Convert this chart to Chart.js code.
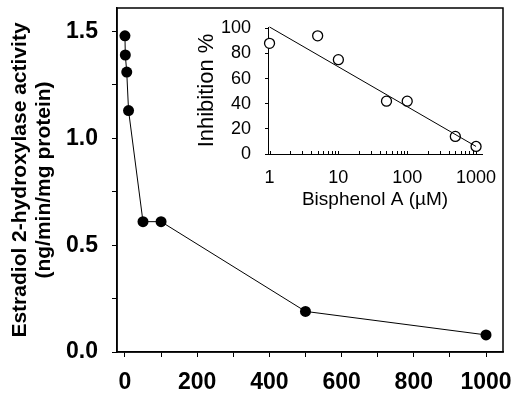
<!DOCTYPE html>
<html>
<head>
<meta charset="utf-8">
<script src="https://cdn.jsdelivr.net/npm/chart.js@4"></script>
<style>
  html, body { margin: 0; padding: 0; background: #fff; }
  #wrap { position: relative; width: 512px; height: 398px; overflow: hidden; }
  #main { position: absolute; left: 0; top: 0; }
  #frameCanvas { position: absolute; left: 0; top: 0; pointer-events: none; }
  #inset { position: absolute; left: 196px; top: 10px; }
</style>
</head>
<body>
<div id="wrap">
  <canvas id="main" width="512" height="398"></canvas>
  <canvas id="frameCanvas" width="512" height="398"></canvas>
  <canvas id="inset" width="316" height="210"></canvas>
</div>
<script>
// ---- Main chart data ----
const MAIN_X = [0, 1, 5, 10, 50, 100, 500, 1000];
const MAIN_Y = [1.48, 1.39, 1.31, 1.13, 0.61, 0.61, 0.19, 0.08];
const MAIN_X_TICKS = [0, 100, 200, 300, 400, 500, 600, 700, 800, 900, 1000];
const MAIN_X_LABELS = [0, 200, 400, 600, 800, 1000];
const MAIN_Y_TICKS = [0, 0.25, 0.5, 0.75, 1.0, 1.25, 1.5];
const MAIN_Y_LABELS = [0, 0.5, 1.0, 1.5];
const MAIN_Y_TITLE = ['Estradiol 2-hydroxylase activity', '(ng/min/mg protein)'];

// ---- Inset data ----
const INSET_X = [1, 5, 10, 50, 100, 500, 1000];
const INSET_Y = [88, 94, 75, 42, 42, 14, 6];
const FIT_X = [1, 1000];
const FIT_Y = [101, 6];
const INSET_X_TICKS = [1,2,3,4,5,6,7,8,9,10,20,30,40,50,60,70,80,90,100,200,300,400,500,600,700,800,900,1000];
const INSET_X_LABELS = [1, 10, 100, 1000];
const INSET_Y_TICKS = [0, 20, 40, 60, 80, 100];
const INSET_X_TITLE = 'Bisphenol A (\u00b5M)';
const INSET_Y_TITLE = 'Inhibition %';

const FONT = "'Liberation Sans', Arial, Helvetica, sans-serif";

function noPad(s) { s.paddingTop = 0; s.paddingBottom = 0; s.paddingLeft = 0; s.paddingRight = 0; }

// Frame around the main plot area, drawn from the chart's own chartArea onto an overlay canvas
function drawFrame(chart) {
  const a = chart.chartArea;
  if (!a) return;
  const c = document.getElementById('frameCanvas');
  const ctx = c.getContext('2d');
  ctx.clearRect(0, 0, c.width, c.height);
  ctx.strokeStyle = '#000';
  ctx.lineWidth = 1.5;
  ctx.strokeRect(Math.round(a.left), Math.round(a.top), Math.round(a.right - a.left), Math.round(a.bottom - a.top));
}
const framePlugin = {
  id: 'framePlugin',
  afterDatasetsDraw(chart) { drawFrame(chart); },
  afterDraw(chart) { drawFrame(chart); },
  afterRender(chart) { drawFrame(chart); }
};

const mainChart = new Chart(document.getElementById('main'), {
  type: 'scatter',
  data: {
    datasets: [{
      data: MAIN_X.map((x, i) => ({x, y: MAIN_Y[i]})),
      showLine: true,
      borderColor: '#000',
      borderWidth: 1,
      pointRadius: 5.5,
      pointBackgroundColor: '#000',
      pointBorderWidth: 0,
      clip: false
    }]
  },
  options: {
    responsive: false,
    animation: false,
    devicePixelRatio: 1,
    layout: { padding: { top: 8, right: 9, left: 0, bottom: 0 } },
    plugins: { legend: { display: false }, tooltip: { enabled: false } },
    scales: {
      x: {
        type: 'linear',
        min: -22, max: 1047,
        afterBuildTicks: s => { s.ticks = MAIN_X_TICKS.map(v => ({value: v})); },
        afterFit: s => { s.height = 46; noPad(s); },
        grid: { drawOnChartArea: false, drawTicks: true, tickLength: 5, color: '#000' },
        border: { display: true, color: '#000', width: 1.5 },
        ticks: {
          color: '#000', padding: 12, maxRotation: 0, autoSkip: false,
          font: { family: FONT, size: 23, weight: 'bold' },
          callback: v => MAIN_X_LABELS.includes(v) ? String(v) : ''
        }
      },
      y: {
        type: 'linear',
        min: 0, max: 1.61,
        afterBuildTicks: s => { s.ticks = MAIN_Y_TICKS.map(v => ({value: v})); },
        afterFit: s => { s.width = 117; noPad(s); },
        grid: { drawOnChartArea: false, drawTicks: true, tickLength: 5, color: '#000' },
        border: { display: true, color: '#000', width: 1.5 },
        ticks: {
          color: '#000', padding: 14, autoSkip: false,
          font: { family: FONT, size: 23, weight: 'bold' },
          callback: v => MAIN_Y_LABELS.includes(v) ? v.toFixed(1) : ''
        },
        title: {
          display: true, text: MAIN_Y_TITLE, color: '#000',
          font: { family: FONT, size: 21, weight: 'bold', lineHeight: 1.15 },
          padding: { top: 8, bottom: 0 }
        }
      }
    }
  },
  plugins: [framePlugin]
});
drawFrame(mainChart);

const insetTicks = {
  id: 'insetTicks',
  afterDraw(chart) {
    const {ctx} = chart;
    const s = chart.scales.x;
    ctx.save();
    ctx.strokeStyle = '#000';
    ctx.lineWidth = 1;
    ctx.beginPath();
    s.ticks.forEach(t => {
      const px = Math.round(s.getPixelForValue(t.value)) + 0.5;
      ctx.moveTo(px, s.top);
      ctx.lineTo(px, s.top - 3);
    });
    ctx.stroke();
    ctx.restore();
  }
};

const insetChart = new Chart(document.getElementById('inset'), {
  type: 'scatter',
  data: {
    datasets: [{
      data: FIT_X.map((x, i) => ({x, y: FIT_Y[i]})),
      showLine: true,
      borderColor: '#000',
      borderWidth: 1,
      pointRadius: 0,
      clip: false
    }, {
      data: INSET_X.map((x, i) => ({x, y: INSET_Y[i]})),
      showLine: false,
      pointRadius: 5,
      pointBackgroundColor: '#fff',
      pointBorderColor: '#000',
      pointBorderWidth: 1.3,
      clip: false
    }]
  },
  options: {
    responsive: false,
    animation: false,
    devicePixelRatio: 1,
    layout: { padding: { top: 17, right: 30, left: 0, bottom: 0 } },
    plugins: { legend: { display: false }, tooltip: { enabled: false } },
    scales: {
      x: {
        type: 'logarithmic',
        min: 0.95, max: 1220,
        afterBuildTicks: s => { s.ticks = INSET_X_TICKS.map(v => ({value: v})); },
        afterFit: s => { s.height = 66; noPad(s); },
        grid: { drawOnChartArea: false, drawTicks: false, color: '#000' },
        border: { display: true, color: '#000', width: 1 },
        ticks: {
          color: '#000', padding: 13, maxRotation: 0, autoSkip: false,
          font: { family: FONT, size: 18 },
          callback: v => INSET_X_LABELS.includes(v) ? String(v) : ''
        },
        title: {
          display: true, text: INSET_X_TITLE, color: '#000',
          font: { family: FONT, size: 19, lineHeight: 1.2 },
          padding: { top: 0, bottom: 9 }
        }
      },
      y: {
        type: 'linear',
        min: 0, max: 101,
        afterBuildTicks: s => { s.ticks = INSET_Y_TICKS.map(v => ({value: v})); },
        afterFit: s => { s.width = 72; noPad(s); },
        grid: { drawOnChartArea: false, drawTicks: true, tickLength: 3, color: '#000' },
        border: { display: true, color: '#000', width: 1 },
        ticks: {
          color: '#000', padding: 14, autoSkip: false,
          font: { family: FONT, size: 18 }
        },
        title: {
          display: true, text: INSET_Y_TITLE, color: '#000',
          font: { family: FONT, size: 22, lineHeight: 1.0 },
          padding: { top: 0, bottom: 0 }
        }
      }
    }
  },
  plugins: [insetTicks]
});
</script>
</body>
</html>
